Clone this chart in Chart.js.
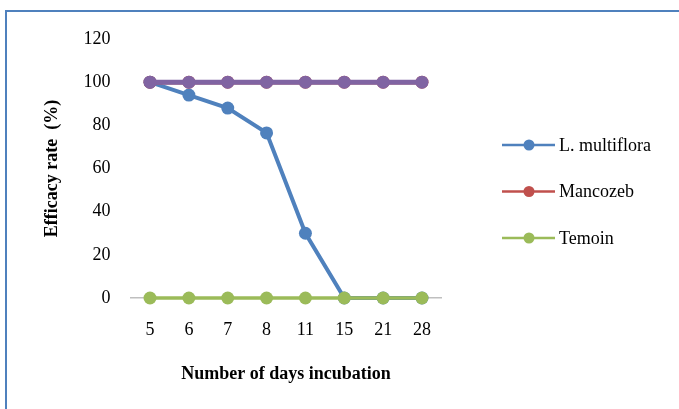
<!DOCTYPE html>
<html>
<head>
<meta charset="utf-8">
<script src="https://cdn.jsdelivr.net/npm/chart.js@4/dist/chart.umd.min.js"></script>
<style>
  html, body { margin: 0; padding: 0; background: #fff; }
  #wrap { position: relative; width: 679px; height: 409px; overflow: hidden; }
  #frame { position: absolute; left: 5px; top: 10px; width: 800px; height: 500px;
           border-top: 2px solid #4F81BD; border-left: 2px solid #4F81BD; }
  canvas { position: absolute; left: 0; top: 0; }
</style>
</head>
<body>
<div id="wrap">
  <div id="frame"></div>
  <canvas id="c" width="679" height="409"></canvas>
</div>
<script>
const days = ['5', '6', '7', '8', '11', '15', '21', '28'];
const lMultiflora = [100, 94, 88, 76.5, 30, 0, 0, 0];
const mancozeb = [100, 100, 100, 100, 100, 100, 100, 100];
const temoin = [0, 0, 0, 0, 0, 0, 0, 0];
const unlabeledSeries = [100, 100, 100, 100, 100, 100, 100, 100];
const yTicks = [0, 20, 40, 60, 80, 100, 120];
const seriesNames = ['L. multiflora', 'Mancozeb', 'Temoin'];

const SERIF = "'Liberation Serif', 'Times New Roman', serif";

const legendPlugin = {
  id: 'lineLegend',
  afterDraw(chart) {
    const ctx = chart.ctx;
    ctx.save();
    chart.data.datasets.forEach((ds, i) => {
      if (!ds.inLegend) return;
      const y = 145 + i * 46.5;
      ctx.strokeStyle = ds.borderColor;
      ctx.lineWidth = 2.5;
      ctx.beginPath();
      ctx.moveTo(502, y);
      ctx.lineTo(555, y);
      ctx.stroke();
      ctx.fillStyle = ds.borderColor;
      ctx.beginPath();
      ctx.arc(529, y, 5.5, 0, Math.PI * 2);
      ctx.fill();
      ctx.fillStyle = '#000';
      ctx.font = '18px ' + SERIF;
      ctx.textBaseline = 'middle';
      ctx.textAlign = 'left';
      ctx.fillText(ds.label, 559, y + 1);
    });
    ctx.restore();
  }
};

function ds(label, data, color, width, order, inLegend) {
  return {
    label, data, inLegend,
    borderColor: color, backgroundColor: color,
    pointBackgroundColor: color, pointBorderColor: color,
    borderWidth: width, pointRadius: 6.5, pointBorderWidth: 0,
    pointHoverRadius: 6.5, tension: 0, order, clip: false
  };
}

new Chart(document.getElementById('c'), {
  type: 'line',
  data: {
    labels: days,
    datasets: [
      ds(seriesNames[0], lMultiflora, '#4F81BD', 4, 3, true),
      ds(seriesNames[1], mancozeb, '#C0504D', 4.5, 2, true),
      ds(seriesNames[2], temoin, '#9BBB59', 3.5, 1, true),
      ds('', unlabeledSeries, '#8064A2', 5, 0, false)
    ]
  },
  plugins: [legendPlugin],
  options: {
    responsive: false,
    animation: false,
    layout: { padding: { left: 0, right: 679 - 441.4, top: 39, bottom: 0 } },
    plugins: { legend: { display: false }, tooltip: { enabled: false } },
    scales: {
      x: {
        type: 'category',
        offset: true,
        grid: { display: false, drawTicks: false },
        border: { display: true, color: '#BFBFBF', width: 1.5 },
        ticks: { color: '#000', font: { family: SERIF, size: 18 }, padding: 21, maxRotation: 0 },
        title: { display: true, text: 'Number of days incubation', color: '#000',
                 font: { family: SERIF, size: 18, weight: 'bold' }, padding: { top: 0, bottom: 24 } },
        afterFit(scale) { scale.height = 409 - 298; }
      },
      y: {
        min: 0, max: 120,
        afterBuildTicks(scale) { scale.ticks = yTicks.map(v => ({ value: v })); },
        grid: { display: false, drawTicks: false },
        border: { display: false },
        ticks: { color: '#000', font: { family: SERIF, size: 18 }, padding: 20 },
        title: { display: true, text: 'Efficacy rate  (%)', color: '#000',
                 font: { family: SERIF, size: 18, weight: 'bold' }, padding: { top: 42, bottom: 0 } },
        afterFit(scale) { scale.width = 130.6; }
      }
    }
  }
});
</script>
</body>
</html>
